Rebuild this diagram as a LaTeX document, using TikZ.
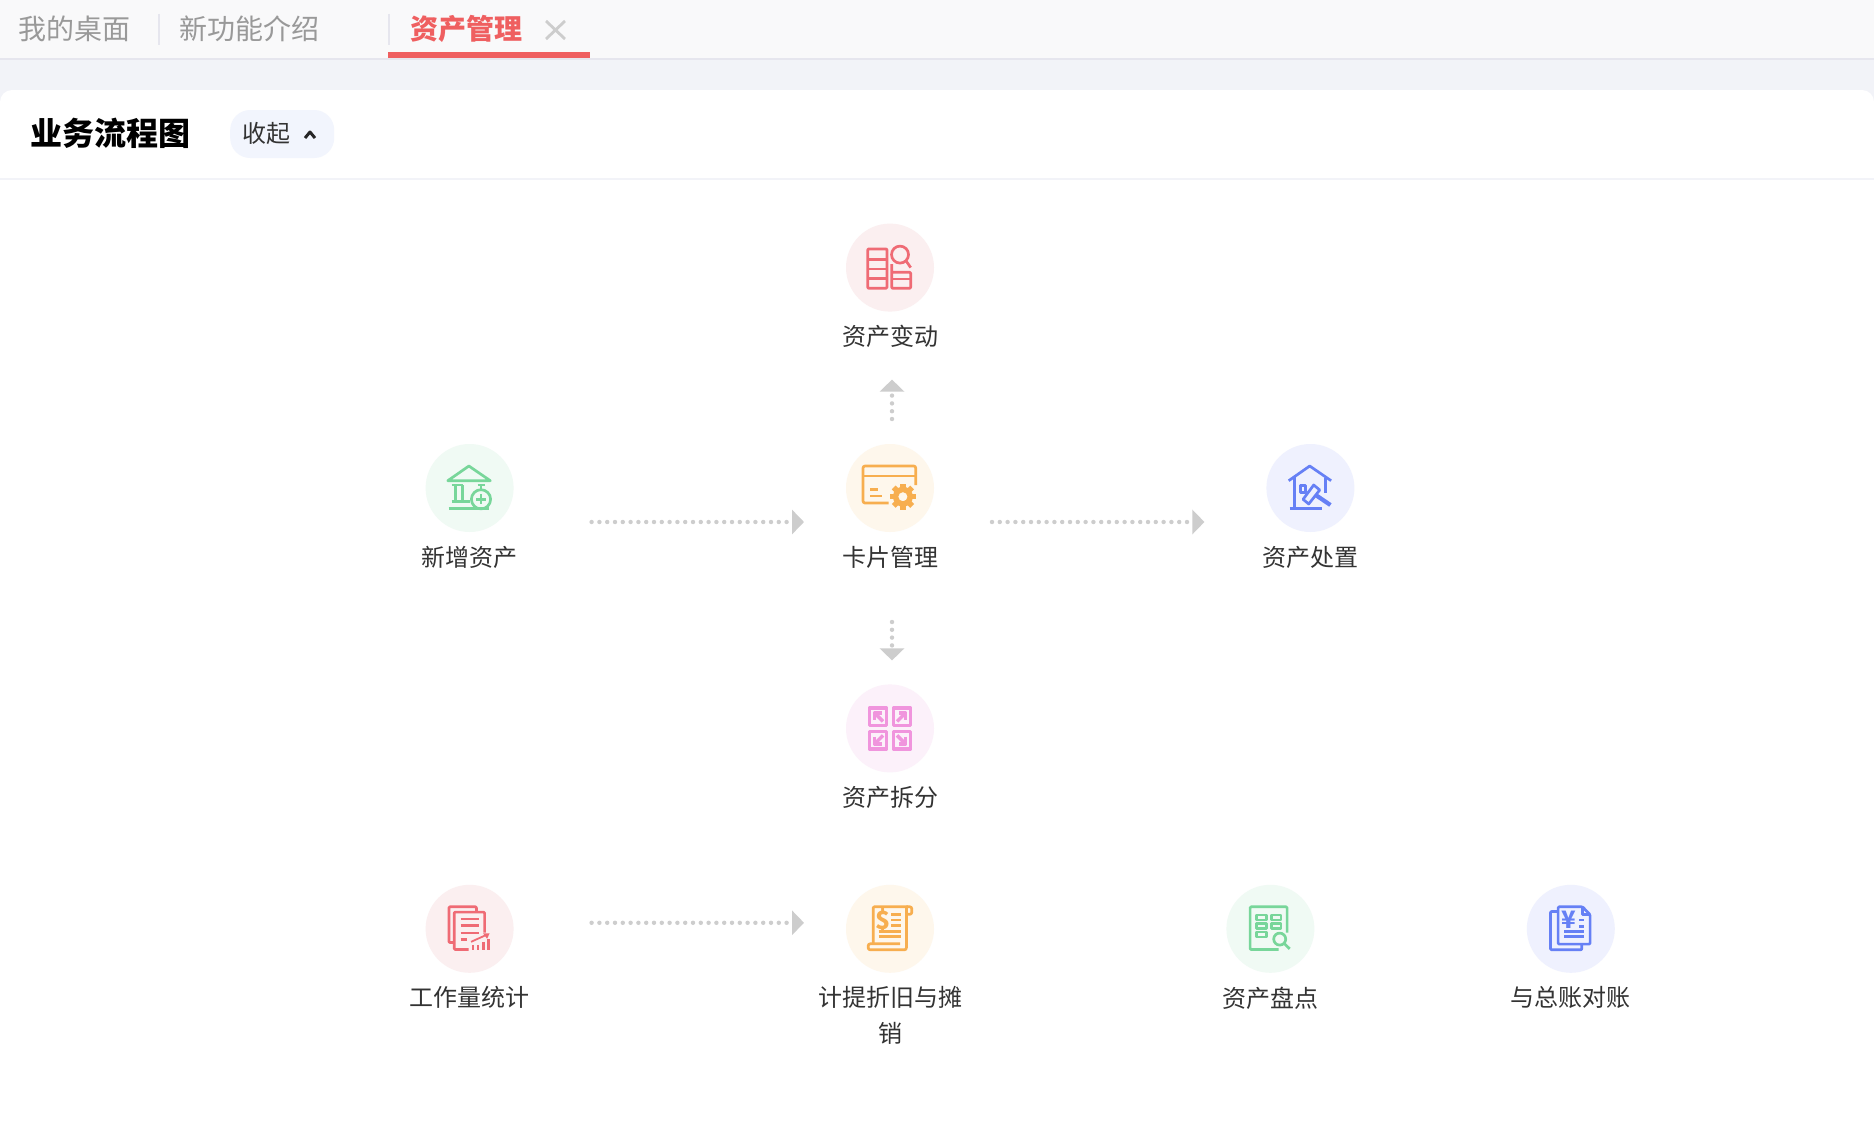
\documentclass[tikz,border=0pt]{standalone}
\usepackage{fontspec}
\setmainfont{Noto Sans CJK SC}
\usetikzlibrary{positioning, arrows.meta}

\definecolor{rosered}{HTML}{EF6B75}
\definecolor{rosetint}{HTML}{FBEFF0}
\definecolor{mintgreen}{HTML}{78D69A}
\definecolor{minttint}{HTML}{F0FAF4}
\definecolor{sandorange}{HTML}{F7AE4F}
\definecolor{sandtint}{HTML}{FEF7EC}
\definecolor{assetblue}{HTML}{6680F5}
\definecolor{bluetint}{HTML}{EFF1FE}
\definecolor{orchidpink}{HTML}{F095DD}
\definecolor{orchidtint}{HTML}{FCF1FA}
\definecolor{flowgray}{HTML}{CDCDCD}
\definecolor{labelgray}{HTML}{333333}
\definecolor{tabgray}{HTML}{999999}
\definecolor{tabred}{HTML}{EF5F60}
\definecolor{barbg}{HTML}{F9F9FA}
\definecolor{bandbg}{HTML}{F2F3F8}
\definecolor{rulegray}{HTML}{E6E6EE}
\definecolor{pillbg}{HTML}{F2F5FD}

\begin{document}
\begin{tikzpicture}[
  x=1pt, y=-1pt,
  iconbg/.style={circle, fill=#1, minimum size=88pt, inner sep=0pt},
  iconlbl/.style={font=\fontsize{24}{36}\selectfont, text=labelgray,
                  align=center, inner sep=0pt},
  glyph/.style={draw=#1, line width=2.7pt, line join=round},
  flow/.style={-{Triangle[length=12pt, width=24pt]}, draw=flowgray,
               line width=4.4pt, line cap=round, dash pattern=on 0pt off 7.8pt},
  tablbl/.style={font=\fontsize{28}{30}\selectfont, text=#1, inner sep=0pt}
]
\useasboundingbox (0,0) rectangle (1874,1129.4);

% ==================== PAGE ====================
\fill[bandbg] (0,0) rectangle (1874,1130);
\fill[barbg] (0,0) rectangle (1874,58);
\fill[rulegray] (0,58) rectangle (1874,60);
\fill[white, rounded corners=12pt] (0,90) -- (1874,90) -- (1874,1130) -- (0,1130) -- cycle;
\fill[white] (0,1100) rectangle (1874,1130);
\fill[bandbg] (0,178) rectangle (1874,180);

% ==================== TABS ====================
\node[tablbl=tabgray, anchor=west] (tabdesk) at (18,29) {我的桌面};
\node[tablbl=tabgray, right=49pt of tabdesk] (tabnews) {新功能介绍};
\node[tablbl=tabred, font=\fontsize{28}{30}\selectfont\bfseries, right=90pt of tabnews] (tabasset) {资产管理};
\draw[rulegray, line width=2pt] (159,14) -- (159,45);
\draw[rulegray, line width=2pt] (389,14) -- (389,45);
\fill[tabred] (388,52) rectangle (590,58);
\draw[flowgray, line width=2.8pt] (546,21) -- (565,39) (565,21) -- (546,39);

% ==================== HEADER ====================
\node[anchor=west, font=\fontsize{32}{36}\selectfont\bfseries, inner sep=0pt] (title) at (30,133) {业务流程图};
\node[fill=pillbg, rounded corners=20pt, minimum width=104pt, minimum height=48pt, anchor=west, inner sep=0pt] (pill) at (230,134) {};
\node[anchor=west, font=\fontsize{24}{30}\selectfont, text=labelgray, inner sep=0pt] (pilltext) at (242,133) {收起};
\draw[black!85, line width=3pt, line join=round] (305,138) -- (310,132) -- (315,138);

% ==================== NODES ====================
\node[iconbg=sandtint] (card) at (890,488) {};
\node[iconbg=rosetint, above=132pt of card] (change) {};
\node[iconbg=minttint, left=332pt of card] (add) {};
\node[iconbg=bluetint, right=332pt of card] (dispose) {};
\node[iconbg=orchidtint, below=152pt of card] (split) {};
\node[iconbg=sandtint, below=112pt of split] (depre) {};
\node[iconbg=rosetint, left=332pt of depre] (workload) {};
\node[iconbg=minttint, right=292pt of depre] (count) {};
\node[iconbg=bluetint, right=212pt of count] (ledger) {};

\node[iconlbl, below=13.5pt of change] (changelbl) {资产变动};
\node[iconlbl, below=13.5pt of add] (addlbl) {新增资产};
\node[iconlbl, below=13.5pt of card] (cardlbl) {卡片管理};
\node[iconlbl, below=13.5pt of dispose] (disposelbl) {资产处置};
\node[iconlbl, below=13.5pt of split] (splitlbl) {资产拆分};
\node[iconlbl, below=13.5pt of workload] (workloadlbl) {工作量统计};
\node[iconlbl, below=13.5pt of depre] (deprelbl) {计提折旧与摊\\销};
\node[iconlbl, below=13.5pt of count] (countlbl) {资产盘点};
\node[iconlbl, below=13.5pt of ledger] (ledgerlbl) {与总账对账};

% ==================== ICONS ====================
\begin{scope}[shift={(change.center)}, glyph=rosered]
  \draw[rounded corners=1pt] (-22.3,-18.7) rectangle (-3,20.7);
  \draw (-22.3,-8) -- (-3,-8) (-22.3,1.3) -- (-3,1.3) (-22.3,10.7) -- (-3,10.7);
  \draw (10,-13) circle (8.5);
  \draw (16,-6.8) -- (20.7,0);
  \draw[rounded corners=1pt] (1.7,-3.5) -- (1.7,20.7) -- (20.7,20.7) -- (20.7,4.7) -- (1.7,4.7);
  \draw (1.7,11.5) -- (20.7,11.5);
\end{scope}

\begin{scope}[shift={(add.center)}, glyph=mintgreen]
  \draw (-0.7,-22) -- (-21.8,-7.3) -- (20.7,-7.3) -- cycle;
  \draw (-18,-3) -- (-6.5,-3) (8,-3) -- (15,-3) (11.4,-3) -- (11.4,2);
  \draw (-14,-3) -- (-14,13.7) (-7,-3) -- (-7,13.7) (-18,13.7) -- (0.7,13.7);
  \draw (-21,20.3) -- (19,20.3);
  \draw (11.4,11.3) circle (9.6);
  \draw (6.4,11.3) -- (16.4,11.3) (11.4,6.3) -- (11.4,16.3);
\end{scope}

\begin{scope}[shift={(card.center)}, glyph=sandorange]
  \draw[rounded corners=2pt] (-1.4,15) -- (-27,15) -- (-27,-22) -- (25.7,-22) -- (25.7,-3);
  \draw (-27,-12) -- (25.7,-12);
  \draw (-20,1.3) -- (-12,1.3) (-20,8) -- (-8,8);
  \foreach \ang in {0,45,...,315}
    \fill[sandorange, rotate around={\ang:(12.9,8.7)}] (10.2,-4.3) rectangle (15.6,0);
  \fill[sandorange, even odd rule] (12.9,8.7) circle (10) (12.9,8.7) circle (4.6);
\end{scope}

\begin{scope}[shift={(dispose.center)}, glyph=assetblue]
  \draw (-21.7,-7.3) -- (-0.7,-22) -- (20.7,-7.3);
  \draw (-15.7,-11) -- (-15.7,20.3) (-20.7,20.3) -- (11.7,20.3) (15,-10) -- (15,5);
  \draw (-10,-2.3) rectangle (-5,4.3);
  \draw (-7.3,11.3) -- (-1.7,16) -- (9.3,2) -- (3.3,-3) -- cycle;
  \draw[line width=4.2pt] (6,7.5) -- (20,17);
\end{scope}

\begin{scope}[shift={(split.center)}, glyph=orchidpink]
  \foreach \dx/\dy in {-1/-1, 1/-1, -1/1, 1/1} {
    \draw[line width=3.2pt] ({\dx*11.9-8.6},{\dy*11.9-8.6}) rectangle ({\dx*11.9+8.6},{\dy*11.9+8.6});
    \draw[line width=3.4pt] ({\dx*7},{\dy*7}) -- ({\dx*15},{\dy*15});
    \draw[line width=3.2pt] ({\dx*15.5},{\dy*8.5}) -- ({\dx*15.5},{\dy*15.5}) -- ({\dx*8.5},{\dy*15.5});
  }
\end{scope}

\begin{scope}[shift={(workload.center)}, glyph=rosered]
  \draw[rounded corners=1pt] (6.8,-17.3) -- (6.8,-22) -- (-20.7,-22) -- (-20.7,13.7) -- (-15.4,13.7);
  \draw[rounded corners=1pt] (-1,20.7) -- (-15.4,20.7) -- (-15.4,-16.7) -- (15,-16.7) -- (15,3.7);
  \draw (-9,-9.7) -- (9,-9.7) (-9,-3) -- (9,-3) (-9,4.3) -- (9,4.3) (-9,11) -- (-3,11);
  \draw[line width=1.8pt] (1.5,13) -- (17,6);
  \fill[rosered] (20,4.5) -- (13.5,4.5) -- (17.5,10) -- cycle;
  \draw[line width=2.6pt] (3.5,16) -- (3.5,21) (8.5,16) -- (8.5,21) (14,13) -- (14,21) (19,10) -- (19,21);
\end{scope}

\begin{scope}[shift={(depre.center)}, glyph=sandorange]
  \draw[rounded corners=1pt] (-16.8,15) -- (-16.8,-22) -- (18,-22);
  \draw[rounded corners=2pt] (16.4,-22) -- (21.8,-22) -- (21.8,-14.5) -- (16.4,-14.5);
  \draw (16.4,-22) -- (16.4,15);
  \draw[rounded corners=2pt] (16.4,15) -- (16.4,21) -- (-21.8,21) -- (-21.8,15) -- (10,15);
  \node[text=sandorange, font=\fontsize{25}{26}\selectfont\bfseries, inner sep=0pt] (dollar) at (-7,-8.7) {\$};
  \draw (1.4,-14) -- (11,-14) (1.4,-8.7) -- (11,-8.7) (1.4,-3) -- (11,-3);
  \draw (-11.4,3) -- (11,3) (-11.4,8) -- (11,8);
\end{scope}

\begin{scope}[shift={(count.center)}, glyph=mintgreen]
  \draw[rounded corners=1pt] (8.3,20.7) -- (-20.3,20.7) -- (-20.3,-22) -- (16.7,-22) -- (16.7,3.7);
  \draw[line width=2.2pt] (-14,-14) rectangle (-4,-9) (1,-14) rectangle (10.7,-9);
  \draw[line width=2.2pt] (-14,-5.3) rectangle (-4,-0.3) (1,-5.3) rectangle (10.7,-0.3);
  \draw[line width=2.2pt] (-14,3.3) rectangle (-4,8);
  \draw (9.3,10.3) circle (6);
  \draw (13.6,14.6) -- (19.3,20);
\end{scope}

\begin{scope}[shift={(ledger.center)}, glyph=assetblue]
  \draw[rounded corners=1pt] (-13.3,-17.3) -- (-20.3,-17.3) -- (-20.3,21) -- (11,21) -- (11,16);
  \draw[rounded corners=1pt] (-12.7,-22) -- (11.7,-22) -- (19.3,-14) -- (19.3,15.3) -- (-12.7,15.3) -- cycle;
  \draw (11.7,-22) -- (11.7,-14) -- (19.3,-14);
  \node[text=assetblue, font=\fontsize{24}{26}\selectfont\bfseries, inner sep=0pt] (yen) at (-1.7,-8.7) {¥};
  \draw (8.3,-8.7) -- (13.3,-8.7) (8.3,-2.3) -- (13.3,-2.3);
  \draw (-6.7,3) -- (13.3,3) (-6.7,8) -- (13.3,8);
\end{scope}

% ==================== ARROWS ====================
\draw[flow] ([shift={(122,34)}]add.center) -- ([shift={(-86,34)}]card.center);
\draw[flow] ([shift={(102,34)}]card.center) -- ([shift={(-106,34)}]dispose.center);
\draw[flow] ([shift={(2,-69)}]card.center) -- ([shift={(2,112)}]change.center);
\draw[flow] ([shift={(2,134)}]card.center) -- ([shift={(2,-68)}]split.center);
\draw[flow] ([shift={(122,-6)}]workload.center) -- ([shift={(-86,-6)}]depre.center);

\end{tikzpicture}
\end{document}
